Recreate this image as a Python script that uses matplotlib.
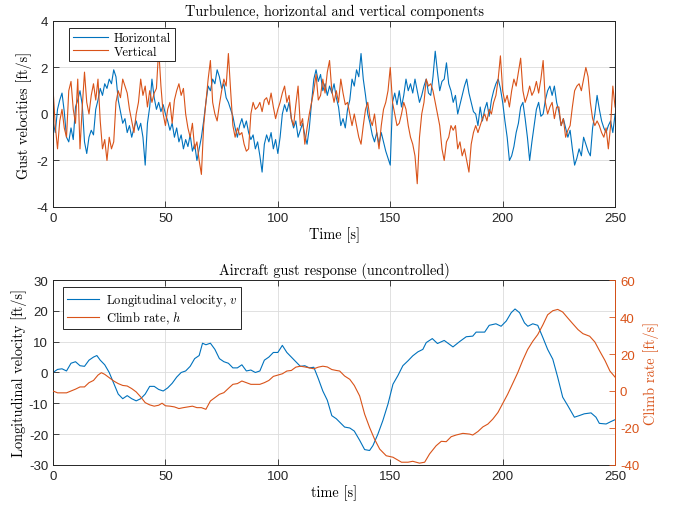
import numpy as np
import matplotlib.pyplot as plt

t_gust = np.arange(0, 251)
horizontal = [
    -0.3, -0.8, 0.2, 0.6, 0.9, 0.1, -1.0, -1.2, -0.6, -1.1,
    0.3, 0.6, 1.0, 0.4, -1.2, -1.7, -1.0, -0.7, -0.9, 0.2,
    0.6, 1.1, 0.8, 1.3, 1.1, 1.5, 1.3, 1.9, 1.6, 0.6,
    0.1, -0.4, -0.2, -0.8, -0.5, -1.0, -0.6, -0.3, -0.7, -0.4,
    -1.0, -2.2, -0.4, 0.3, 1.5, 0.7, 0.2, 0.5, 0.1, 0.4,
    0.0, -0.3, -0.7, -0.4, -1.0, -0.6, -1.2, -0.9, -1.5, -1.1,
    -1.4, -0.9, -1.6, -1.3, -2.0, -1.5, -1.0, -0.3, 0.5, 1.2,
    1.0, 1.5, 1.3, 1.9, 1.6, 1.1, 1.3, 0.7, 0.5, 0.2,
    -0.1, -0.6, -1.0, -0.5, -0.2, -0.6, -0.3, -0.8, -1.1, -0.9,
    -1.5, -1.2, -1.8, -2.5, -1.3, -0.9, -1.2, -0.8, -1.5, -1.1,
    -1.7, -1.0, 0.0, 0.4, 0.1, 0.5, -0.2, -0.6, -0.3, -1.0,
    -0.7, -0.4, -0.9, -1.3, -0.6, 0.5, 1.5, 1.9, 1.4, 1.7,
    1.0, 1.3, 0.8, 1.2, 0.9, 1.3, 0.7, 0.3, -0.5, -0.2,
    -0.6, 0.2, 0.6, 1.5, 1.2, 1.9, 1.6, 2.6, 1.5, 0.8,
    0.0, -0.4, -0.9, -1.2, -0.8, -1.3, -0.8, -1.2, -1.6, -1.9,
    -2.2, 0.5, 0.9, 0.4, 1.0, 0.3, 0.8, 1.5, 1.0, 1.3,
    0.9, 1.5, 1.0, 0.5, 0.8, 1.2, 1.5, 0.9, 0.8, 1.6,
    2.7, 1.8, 1.0, 1.4, 1.5, 2.2, 1.3, 1.0, 0.5, 0.8,
    0.0, 0.4, 0.8, 1.2, 1.5, 0.9, 0.5, 0.1, 0.0, -0.5,
    0.3, -0.3, 0.2, 0.5, -0.1, 0.6, 1.0, 1.3, 1.5, 1.1,
    0.5, -0.3, -1.0, -2.0, -1.8, -1.4, -0.8, -0.4, 0.3, 0.5,
    -0.2, -1.0, -2.0, -1.2, -0.5, 0.2, 0.5, -0.1, 0.0, 0.6,
    1.0, 1.2, 0.8, 1.2, 0.5, 0.1, -0.5, -0.2, -0.6, -1.0,
    -0.7, -1.5, -2.2, -1.9, -1.5, -1.8, -1.0, -1.3, -1.6, -1.8,
    -0.6, 0.0, 0.8, 0.2, -0.3, -0.6, -0.8, -0.5, -0.3, -0.8,
    0.0,
]
vertical = [
    1.1, -0.5, -1.5, -0.3, 0.2, -0.6, -1.0, 1.0, 1.4, 0.2,
    -0.4, 1.5, -1.5, 0.3, 1.8, 0.5, 0.0, 0.8, 1.3, 0.6,
    1.5, -0.3, -1.5, -1.1, -2.0, -1.0, -1.5, -1.2, 0.5, 1.0,
    0.7, 1.5, 1.2, 0.9, 0.2, -0.3, -0.8, 0.0, 0.5, 1.5,
    0.8, 1.2, 0.3, 1.0, 0.5, 0.9, 1.1, 2.8, 1.2, 0.0,
    -0.5, 0.2, 0.5, -0.4, 0.6, 1.0, 1.3, 0.8, 1.1, 0.0,
    -0.6, -1.0, -0.4, -1.5, -1.2, -2.0, -2.6, -0.5, 0.5, 1.5,
    2.3, 0.5, 0.0, -0.3, 0.4, 1.0, 1.5, 1.2, 2.6, 1.0,
    -0.5, -1.0, -0.6, -0.9, -0.8, -1.3, -1.6, -1.5, 0.0, 0.5,
    0.2, 0.3, 0.5, 0.1, 0.6, 0.7, 0.4, 0.9, 0.3, -0.2,
    0.2, 0.5, 0.9, 1.2, 0.5, 0.8, -0.2, -0.5, 0.4, 1.2,
    -0.5, -0.2, -1.3, -0.6, 0.0, 0.5, 1.0, 1.7, 0.6, 0.8,
    1.5, 0.9, 1.8, 2.3, 1.0, 0.5, 1.0, 0.5, 1.5, 0.9,
    0.4, 0.5, 0.0, -0.5, 0.0, -0.5, -1.0, -1.3, -0.5, 0.2,
    0.5, -0.2, -0.5, 0.0, -0.8, -1.5, -0.5, 0.2, 0.5, 1.0,
    2.0, 0.5, 0.0, -0.5, -0.4, 0.0, 0.5, 0.2, -0.5, -1.0,
    -1.3, -1.8, -3.0, -1.0, 0.0, 0.5, 1.5, 1.2, 1.3, 1.0,
    0.5, 0.0, -0.5, -1.5, -2.0, -1.2, -1.0, -0.5, -0.7, -0.5,
    -1.5, -1.2, -1.8, -1.5, -2.0, -2.5, -1.3, -0.8, -0.5, -0.8,
    -0.5, -0.2, 0.0, -0.3, 0.2, 0.0, 0.5, 0.8, 1.5, 2.5,
    1.0, 0.5, 0.8, 0.3, 1.0, 1.5, 1.2, 1.8, 2.4, 1.0,
    0.5, 0.8, 1.2, 0.8, 1.0, 1.4, 0.9, 1.5, 2.3, 0.5,
    0.0, 0.3, 0.5, -0.2, 0.3, 0.3, -0.5, -0.2, -1.0, -0.7,
    -0.5, 0.3, 1.0, 1.2, 1.3, 1.0, 1.5, 2.0, 1.6, 0.5,
    -0.2, -0.5, -0.3, -0.5, -0.8, -1.0, -0.6, -1.5, -0.5, 1.2,
    0.3,
]

# aircraft response
t_v = [0, 2, 4, 6, 8, 10, 12, 14, 16, 18, 19.5, 21, 23, 25, 27, 29, 31, 33, 35, 37,
       39, 41, 43, 45, 47, 49, 51, 53, 55, 57, 59, 61, 63, 65, 66.5, 68, 70, 72, 74, 76,
       78, 80, 82, 84, 86, 88, 90, 92, 94, 96, 98, 100, 102, 104, 106, 108, 110, 112, 114, 116,
       118, 120, 122, 124, 126, 129.7, 132, 134, 136.4, 138.6, 140.8, 142.3, 144.5, 146.7, 149, 151.2, 153.4, 155.6, 157.9, 160,
       162.3, 164.5, 166, 168.7, 171, 174, 177.9, 180.8, 183.8, 186.7, 188.2, 192, 194, 197, 199.3, 201.6, 203.8, 205.5, 207.5, 209.7,
       211.2, 213.4, 215.6, 217.9, 220, 222.3, 224.5, 226.7, 229, 231.9, 234, 236.3, 239.3, 241.5, 243, 246, 248.2, 250]
long_vel = [0, 1, 1.2, 0.5, 3, 3.5, 2.2, 2.0, 4, 5, 5.5, 4, 2.5, 0, -3.5, -7, -8.5, -7.5, -8.5, -9.2,
            -8.5, -7, -4.5, -4.5, -5.5, -6, -5, -3.5, -1.5, 0, 0.5, 2.0, 4.5, 5.5, 9.5, 9.0, 9.5, 7.5, 4.5, 3.5,
            3.0, 1.5, 1.5, 2.5, 0.5, 0.8, 0, 0.5, 4, 5, 6.5, 6.5, 8.8, 6.5, 5, 3.5, 2, 2.2, 1.5, 1.7,
            -2, -6, -9, -14, -15, -17.7, -18, -19, -22, -25, -25.3, -23.7, -20, -15.6, -10.2, -3.8, -1, 2.2, 3.8, 5.4,
            6.7, 7.5, 9.7, 11, 9.4, 10.4, 8.3, 10, 11.6, 11.8, 13.1, 13.1, 15.3, 15.8, 15, 16.7, 19.4, 20.6, 19.4, 16.1,
            15, 15.8, 15.3, 11.3, 7.5, 4.3, -1.6, -8, -10.8, -14.5, -14, -13.4, -13.1, -14.5, -16.5, -16.7, -15.9, -15.3]

t_h = [0, 2, 4, 6, 8, 10, 12, 14, 16, 18, 20, 21.5, 23, 25, 27, 29, 31, 33, 35, 37,
       39, 41, 43, 45, 47, 48.5, 50, 52, 54, 56, 58, 60, 62, 64, 66, 68, 70, 72, 74, 76,
       78, 80, 82, 84, 86, 88, 90, 92, 94, 96, 98, 100, 102, 104, 106, 108, 110, 112, 114, 116,
       118, 120, 122, 124, 126, 127.5, 129.7, 132, 134, 136.4, 138.6, 140.8, 143, 145.3, 148.2, 151.2, 155, 157.9, 160, 163,
       165.3, 167.5, 170.4, 172.7, 174.9, 177.1, 179.3, 182.3, 185.3, 186.7, 189, 191.2, 193.4, 195.6, 197.9, 200, 202.2, 204.4, 206.7, 208.9,
       211.1, 213.4, 215.6, 217.9, 220, 222.3, 224.5, 226.7, 229, 231.3, 233.5, 235.7, 238.7, 241, 243.2, 245.5, 247.7, 250]
climb_rate = [0, -1, -1, -1, 0, 1, 2.2, 2.2, 4.5, 5.7, 8.6, 9.9, 9, 7.2, 5.4, 4, 3, 2.7, 1.3, -0.5,
              -3.2, -6.3, -7.5, -8.2, -7.7, -6.6, -8, -8.2, -8.6, -9.5, -9, -8.6, -8.2, -9, -9, -9.9, -5.4, -3.6, -1.8, -0.9,
              1.4, 3.6, 4, 5.4, 4.5, 3.6, 3.6, 3.6, 4.5, 5.7, 7.9, 8.6, 9.3, 10.8, 11.1, 12.9, 13.4, 13, 12.5, 12,
              12.9, 13.4, 13, 11.6, 11.1, 10.8, 8.1, 6.3, 3, -2.7, -12.5, -19.7, -26, -31.4, -35, -35.8, -38.5, -38.5, -38, -39,
              -38.5, -34, -29.6, -27.2, -27.4, -24.7, -23.8, -22.9, -23.3, -23.8, -21.9, -19.4, -17.9, -15.2, -11.6, -6.8, -1.8, 3.9, 9.9, 16.5,
              22.4, 26.9, 30.5, 35.8, 41.2, 43.4, 44.1, 42.7, 39.4, 36.2, 33.2, 31, 29.6, 26.5, 21.5, 16.5, 10.8, 7.5]

blue = '#0072BD'
orange = '#D95319'
dark = '#262626'
serif = 'cmr10'

plt.rcParams['font.family'] = ['Liberation Sans', 'DejaVu Sans']
plt.rcParams['font.size'] = 9
plt.rcParams['axes.unicode_minus'] = False
plt.rcParams['mathtext.fontset'] = 'cm'

fig = plt.figure(figsize=(6.78, 5.10), dpi=100)
ax1 = fig.add_axes([0.0782, 0.5922, 0.829, 0.3647])
ax2 = fig.add_axes([0.0782, 0.0863, 0.829, 0.3627])


def style(ax, right_ticks=True):
    ax.grid(True, color='#dcdcdc', linewidth=0.6)
    ax.set_axisbelow(True)
    ax.tick_params(direction='in', length=4, width=0.6, colors=dark, labelsize=9.5,
                   top=True, right=right_ticks)
    for s in ax.spines.values():
        s.set_color(dark)
        s.set_linewidth(0.7)


ax1.plot(t_gust, horizontal, color=blue, lw=0.8, label='Horizontal')
ax1.plot(t_gust, vertical, color=orange, lw=0.8, label='Vertical')
ax1.set_xlim(0, 250)
ax1.set_ylim(-4, 4)
ax1.set_yticks([-4, -2, 0, 2, 4])
style(ax1)
ax1.set_title('Turbulence, horizontal and vertical components', family=serif, fontsize=10.3, pad=4)
ax1.set_xlabel('Time [s]', family=serif, fontsize=10.3, labelpad=2)
ax1.set_ylabel('Gust velocities [ft/s]', family=serif, fontsize=10.3, labelpad=3)
leg = ax1.legend(loc='upper left', bbox_to_anchor=(0.028, 0.96), fancybox=False, framealpha=1,
                 edgecolor=dark, prop={'family': serif, 'size': 9}, handlelength=2.8,
                 borderpad=0.3, labelspacing=0.1, handletextpad=0.5, borderaxespad=0)
leg.get_frame().set_linewidth(0.7)

l1, = ax2.plot(t_v, long_vel, color=blue, lw=0.8)
ax2.set_xlim(0, 250)
ax2.set_ylim(-30, 30)
ax2.set_yticks(np.arange(-30, 31, 10))
style(ax2, right_ticks=False)
ax2.set_title('Aircraft gust response (uncontrolled)', family=serif, fontsize=10.3, pad=4)
ax2.set_xlabel('time [s]', family=serif, fontsize=10.3, labelpad=2)
ax2.set_ylabel('Longitudinal velocity [ft/s]', family=serif, fontsize=10.3, labelpad=1)

ax3 = ax2.twinx()
l2, = ax3.plot(t_h, climb_rate, color=orange, lw=0.8)
ax3.set_ylim(-40, 60)
ax3.set_yticks(np.arange(-40, 61, 20))
ax3.tick_params(direction='in', length=4, width=0.6, colors=orange, labelsize=9.5)
ax3.spines['right'].set_color(orange)
ax3.spines['right'].set_linewidth(0.7)
for s in ['left', 'top', 'bottom']:
    ax3.spines[s].set_visible(False)
ax3.set_ylabel('Climb rate [ft/s]', family=serif, fontsize=10.3, color=orange, labelpad=3)

leg2 = ax3.legend([l1, l2], ['Longitudinal velocity, $v$', 'Climb rate, $h$'], loc='upper left',
                  bbox_to_anchor=(0.018, 0.96), fancybox=False, framealpha=1, edgecolor=dark,
                  prop={'family': serif, 'size': 9}, handlelength=2.6, borderpad=0.3,
                  labelspacing=0.1, handletextpad=0.5, borderaxespad=0)
leg2.get_frame().set_linewidth(0.7)

fig.savefig('out.png', dpi=100)
